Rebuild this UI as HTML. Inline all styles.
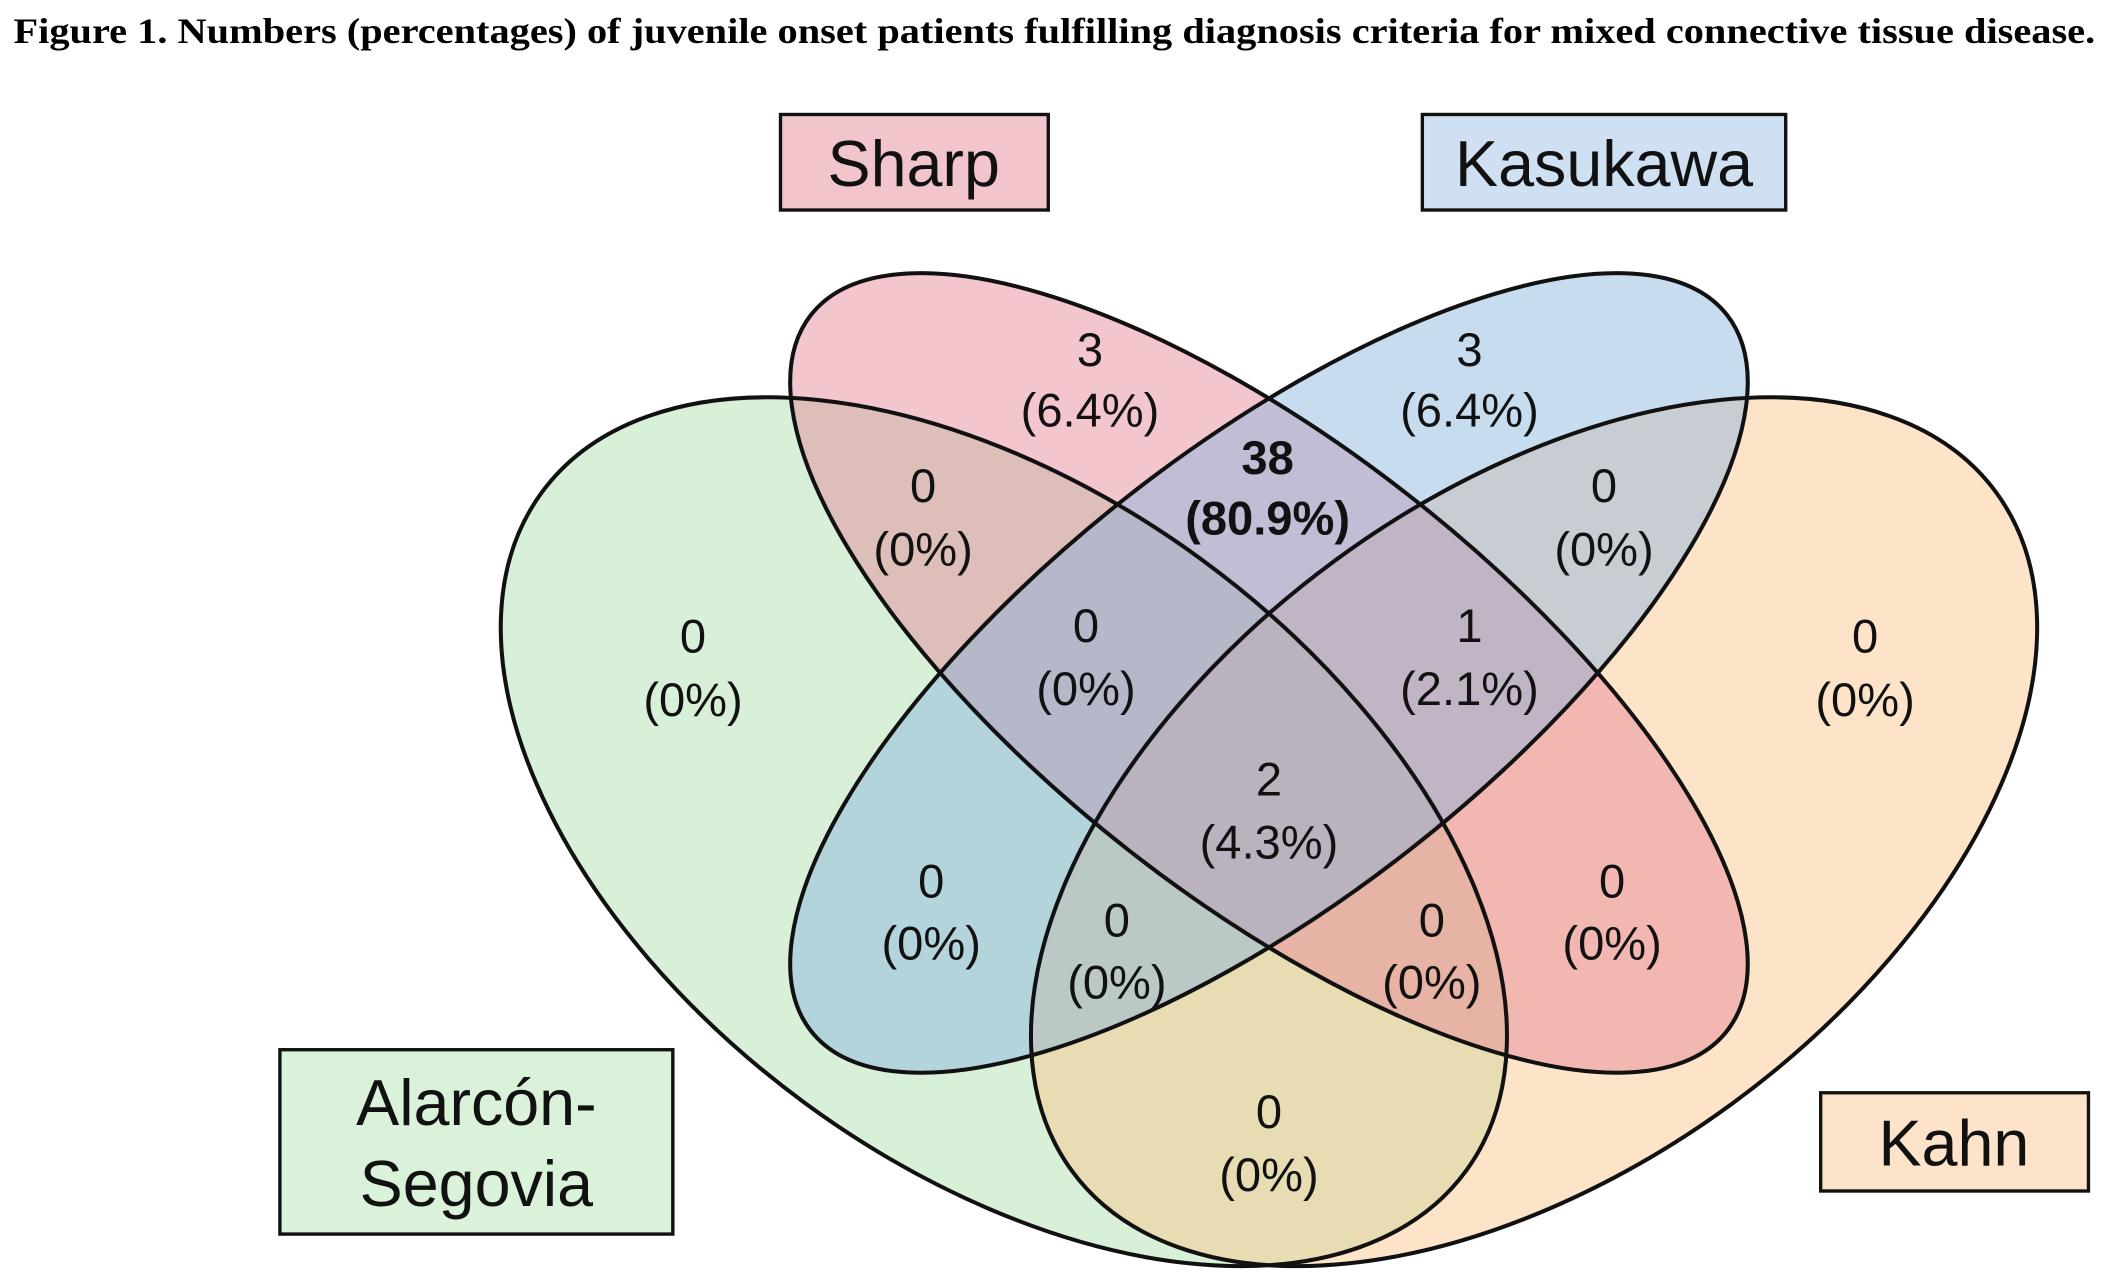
<!DOCTYPE html>
<html><head><meta charset="utf-8"><style>
html,body{margin:0;padding:0;background:#fff;overflow:hidden}
svg{display:block}
</style></head><body>
<svg width="2110" height="1288" viewBox="0 0 1568 957" xmlns="http://www.w3.org/2000/svg">
<text x="10" y="32" font-family="Liberation Serif, serif" font-weight="bold" font-size="27" textLength="1547" lengthAdjust="spacingAndGlyphs">Figure 1. Numbers (percentages) of juvenile onset patients fulfilling diagnosis criteria for mixed connective tissue disease.</text>
<g fill-opacity="0.45">
<ellipse cx="746" cy="618" rx="426" ry="250" transform="rotate(36.3 746 618)" fill="#a8dea8"/>
<ellipse cx="1140" cy="618" rx="426" ry="250" transform="rotate(-36.3 1140 618)" fill="#fbc385"/>
<ellipse cx="943" cy="500" rx="432" ry="168" transform="rotate(38 943 500)" fill="#e48092"/>
<ellipse cx="943" cy="500" rx="432" ry="168" transform="rotate(-38 943 500)" fill="#85b1de"/>
</g>
<g fill="none" stroke="#111" stroke-width="3">
<ellipse cx="746" cy="618" rx="426" ry="250" transform="rotate(36.3 746 618)"/>
<ellipse cx="1140" cy="618" rx="426" ry="250" transform="rotate(-36.3 1140 618)"/>
<ellipse cx="943" cy="500" rx="432" ry="168" transform="rotate(38 943 500)"/>
<ellipse cx="943" cy="500" rx="432" ry="168" transform="rotate(-38 943 500)"/>
</g>
<g font-family="Liberation Sans, sans-serif" font-size="48" text-anchor="middle" fill="#111">
<rect x="580" y="85" width="199" height="71" fill="#f2c5cd" stroke="#111" stroke-width="2.5"/>
<text x="679" y="138">Sharp</text>
<rect x="1057" y="85" width="270" height="71" fill="#cfe0f3" stroke="#111" stroke-width="2.5"/>
<text x="1192" y="138">Kasukawa</text>
<rect x="208" y="780" width="292" height="137" fill="#d9f2d9" stroke="#111" stroke-width="2.5"/>
<text x="354" y="836">Alarcón-</text>
<text x="354" y="896">Segovia</text>
<rect x="1353" y="812" width="199" height="73" fill="#fde3c9" stroke="#111" stroke-width="2.5"/>
<text x="1452" y="866">Kahn</text>
</g>
<g font-family="Liberation Sans, sans-serif" font-size="35" text-anchor="middle" fill="#111">
<text x="810" y="272">3</text><text x="810" y="317">(6.4%)</text>
<text x="1092" y="272">3</text><text x="1092" y="317">(6.4%)</text>
<text x="942" y="352" font-weight="bold">38</text><text x="942" y="397" font-weight="bold">(80.9%)</text>
<text x="686" y="373">0</text><text x="686" y="420">(0%)</text>
<text x="1192" y="373">0</text><text x="1192" y="420">(0%)</text>
<text x="515" y="485">0</text><text x="515" y="532">(0%)</text>
<text x="1386" y="485">0</text><text x="1386" y="532">(0%)</text>
<text x="807" y="477">0</text><text x="807" y="524">(0%)</text>
<text x="1092" y="477">1</text><text x="1092" y="524">(2.1%)</text>
<text x="943" y="591">2</text><text x="943" y="638">(4.3%)</text>
<text x="692" y="667">0</text><text x="692" y="713">(0%)</text>
<text x="1198" y="667">0</text><text x="1198" y="713">(0%)</text>
<text x="830" y="696">0</text><text x="830" y="742">(0%)</text>
<text x="1064" y="696">0</text><text x="1064" y="742">(0%)</text>
<text x="943" y="838">0</text><text x="943" y="885">(0%)</text>
</g>
</svg>
</body></html>
